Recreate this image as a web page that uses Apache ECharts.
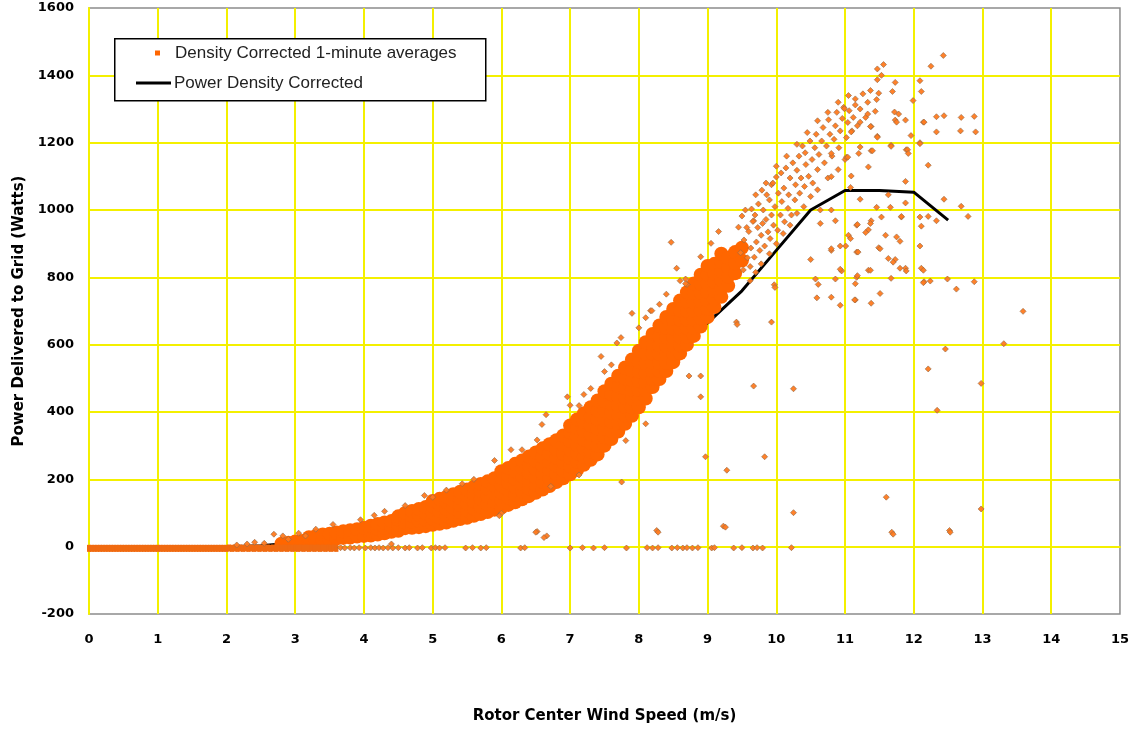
<!DOCTYPE html>
<html><head><meta charset="utf-8">
<script src="https://cdn.jsdelivr.net/npm/echarts@6/dist/echarts.min.js"></script>
<style>html,body{margin:0;padding:0;background:#fff}#c{width:1132px;height:729px}</style>
</head><body><div id="c"></div>
<script>
// ---- power curve (bin averages) ----
const curveSpeed = [0.5,1,1.5,2,2.5,3,3.5,4,4.5,5,5.5,6,6.5,7,7.5,8,8.5,9,9.5,10,10.5,11,11.5,12,12.5];
const curvePower = [0,0,0,0,3,12,28,48,72,100,135,180,235,300,370,455,560,665,760,880,1000,1058,1058,1053,970];

// ---- dense band of 1-minute averages: speed columns and the powers read in each ----
const bandSpeed = [2.8,2.9,3.0,3.1,3.2,3.3,3.4,3.5,3.6,3.7,3.8,3.9,4.0,4.1,4.2,4.3,4.4,4.5,4.6,4.7,4.8,4.9,5.0,5.1,5.2,5.3,5.4,5.5,5.6,5.7,5.8,5.9,6.0,6.1,6.2,6.3,6.4,6.5,6.6,6.7,6.8,6.9,7.0,7.1,7.2,7.3,7.4,7.5,7.6,7.7,7.8,7.9,8.0,8.1,8.2,8.3,8.4,8.5,8.6,8.7,8.8,8.9,9.0,9.1,9.2,9.3,9.4,9.5];
const bandPower = [
 [9],[12],[15],[17],[16,28],[18,32],[20,36],[22,38],[24,42],[26,46],
 [27,49],[30,52],[32,56],[33,48,62],[36,52,67],[40,57,72],[44,60,76],[47,64,80,90],[55,72,89,100],[56,74,92,106],
 [58,76,94,112],[61,80,99,118],[65,83,101,120,136],[68,87,106,125,142],[72,92,112,132,148],[77,97,117,138,156],[82,102,123,144,163],[86,107,128,150,170],[92,113,135,157,178],[97,119,142,165,186],
 [103,126,149,172,194],[110,133,157,181,203],[116,138,160,182,204,224],[124,146,168,190,212,234],[132,155,178,201,224,246],[141,164,187,210,233,256],[150,173,196,219,243,268],[160,183,206,230,254,280],[170,193,217,241,266,292],[180,204,228,252,277,304],
 [192,216,240,264,289,316],[203,227,251,276,302,330],[215,239,263,288,314,340,360],[228,252,277,302,328,354,378],[243,267,292,318,344,370,396],[258,283,308,334,360,386,414],[274,299,325,351,378,404,434],[300,325,351,377,404,432,462],
 [320,345,371,398,425,453,484],[342,367,393,420,447,476,508],[365,390,416,443,471,500,532],[389,414,440,467,495,524,556],[414,439,465,492,520,549,582],[440,464,489,516,544,574,607],
 [474,498,522,547,573,601,632],[498,522,547,572,598,626,657],[522,546,571,596,622,650,682],[548,572,597,622,648,676,706],[574,598,623,648,674,702,731],[600,624,649,674,700,728,756],
 [626,650,675,700,726,754,782],[654,678,703,728,754,781,808],[682,706,731,756,782,808,834],[712,736,761,786,811,840],[742,767,792,818,846,870],[775,802,830,858],[812,842,875],[850,888]
];

// ---- zero-power 1-minute averages (speed, power) ----
const zeroPoints = [
 [0,-5],[0.04,-5],[0.08,-5],[0.12,-5],[0.16,-5],[0.2,-5],[0.24,-5],[0.28,-5],[0.32,-5],[0.36,-5],[0.4,-5],[0.44,-5],[0.48,-5],[0.52,-5],[0.56,-5],[0.6,-5],[0.64,-5],[0.68,-5],[0.72,-5],[0.76,-5],
 [0.8,-5],[0.84,-5],[0.88,-5],[0.92,-5],[0.96,-5],[1,-5],[1.04,-5],[1.08,-5],[1.12,-5],[1.16,-5],[1.2,-5],[1.24,-5],[1.28,-5],[1.32,-5],[1.36,-5],[1.4,-5],[1.44,-5],[1.48,-5],[1.52,-5],[1.56,-5],
 [1.6,-5],[1.64,-5],[1.68,-5],[1.72,-5],[1.76,-5],[1.8,-5],[1.84,-5],[1.88,-5],[1.92,-5],[1.96,-5],[2,-5],[2.04,-4],[2.08,-5],[2.12,-4],[2.16,-5],[2.2,-4],[2.24,-5],[2.28,-4],[2.32,-5],[2.36,-4],
 [2.4,-5],[2.44,-4],[2.48,-5],[2.52,-4],[2.56,-5],[2.6,-4],[2.64,-5],[2.68,-4],[2.72,-5],[2.76,-4],[2.8,-5],[2.84,-4],[2.88,-5],[2.92,-4],[2.96,-5],[3,-4],[3.04,-5],[3.08,-4],[3.12,-5],[3.16,-4],
 [3.2,-5],[3.24,-4],[3.28,-5],[3.32,-4],[3.36,-5],[3.4,-4],[3.44,-5],[3.48,-4],[3.52,-5],[3.56,-4],[3.6,-5]
];
// ---- scattered 1-minute averages (speed, power) ----
const loosePoints = [
 [3.66,-3],[3.72,-4],[3.8,-3],[3.86,-4],[3.93,-3],[4.02,-4],[4.1,-3],[4.16,-4],[4.22,-3],[4.28,-4],[4.35,-3],[4.42,-4],[4.5,-3],[4.6,-4],[4.66,-3],[4.78,-4],[4.85,-3],[4.98,-4],[5.04,-3],[5.1,-4],
 [5.18,-3],[5.48,-4],[5.58,-3],[5.7,-4],[5.78,-3],[6.28,-4],[6.34,-3],[7.0,-4],[7.18,-3],[7.34,-4],[7.5,-3],[7.82,-4],[8.12,-3],[8.2,-4],[8.28,-3],[8.48,-4],[8.56,-3],[8.64,-4],[8.7,-3],[8.78,-4],
 [8.86,-3],[9.06,-4],[9.1,-3],[9.38,-4],[9.5,-3],[9.66,-4],[9.72,-3],[9.8,-4],[10.22,-3],
 [2.15,5],[2.3,8],[2.41,13],[2.55,10],[2.69,37],[2.82,32],[2.9,22],[3.15,32],[3.05,40],[3.3,52],[3.55,66],[3.95,80],[4.15,93],[4.4,8],[4.3,105],[4.6,122],[4.88,152],[5.0,147],[5.2,168],[5.43,187],
 [5.6,200],[5.9,256],[6.14,288],[6.0,99],[5.97,92],[6.3,288],[6.52,317],[6.59,363],[6.65,392],[6.96,445],[7.13,419],[7.0,420],[7.2,452],[7.3,470],[7.45,565],[7.5,520],[7.6,540],[7.68,605],[7.74,621],[7.9,693],
 [8.0,650],[8.1,680],[8.17,701],[8.3,720],[8.4,750],[8.55,827],[8.6,790],[8.7,779],[8.9,861],[8.47,904],[9.05,901],[8.68,795],[8.19,701],[9.16,936],[9.45,949],[9.79,1059],[9.93,1075],[9.67,968],
 [8.9,507],[8.9,445],[8.73,507],[8.1,365],[7.81,315],[7.13,213],[6.72,179],[7.75,192],[6.52,45],[6.66,32],[6.5,43],[6.62,27],[8.26,48],[8.28,43],[9.23,61],[9.26,58],[9.28,227],[8.97,267],[9.83,267],[10.25,101],
 [9.67,477],[10.25,469],[9.93,667],[9.42,667],[9.97,778],[9.98,770],[8.68,781],[9.43,660],
 [9.52,822],[9.48,873],[9.53,911],[9.57,948],[9.5,982],[9.58,858],[9.62,832],[9.63,887],[9.6,936],[9.66,966],[9.64,1003],[9.68,860],[9.71,905],[9.73,948],[9.69,985],[9.76,880],[9.78,925],[9.74,1018],[9.8,960],[9.83,893],
 [9.81,1000],[9.86,1045],[9.88,935],[9.85,972],[9.91,915],[9.93,985],[9.9,1030],[9.96,955],[9.98,1010],[9.95,1080],[10.02,940],[10.03,1050],[10.0,1098],[10.06,985],[10.08,1025],[10.07,1110],[10.12,965],[10.11,1065],[10.14,1125],[10.17,1005],
 [10.18,1045],[10.2,1095],[10.22,985],[10.24,1140],[10.27,1030],[10.28,1075],[10.3,1118],[10.33,1160],[10.34,1050],[10.36,1095],[10.38,1190],[10.41,1070],[10.43,1135],[10.42,1170],[10.47,1100],[10.49,1205],[10.52,1150],[10.53,1080],[10.56,1185],[10.58,1225],
 [10.6,1120],[10.62,1165],[10.66,1205],[10.68,1245],[10.7,1140],[10.73,1190],[10.76,1268],[10.78,1225],[10.81,1160],[10.84,1210],[10.86,1250],[10.88,1290],[10.91,1185],[10.93,1235],[10.96,1272],[10.98,1305],[11.02,1215],[11.04,1260],[11.06,1295],[11.1,1235],
 [11.12,1275],[11.15,1330],[11.18,1250],[11.22,1300],[11.26,1345],[11.3,1275],[11.33,1320],
 [9.62,790],[9.7,815],[9.78,840],[9.9,870],[10.0,900],[10.1,930],[10.2,955],[10.3,990],[10.4,1010],[10.5,1040],[10.6,1060],[10.75,1095],[10.9,1120],[11.0,1150],
 [9.55,1000],[9.7,1045],[9.85,1080],[10.0,1130],[10.15,1160],[10.3,1195],[10.45,1230],[10.6,1265],[10.75,1290],[10.9,1320],[11.05,1340],
 [10.5,853],[10.57,795],[10.61,779],[10.59,739],[10.8,741],[10.93,717],[11.15,733],[11.38,723],[11.51,752],[11.34,821],[11.17,800],[11.67,797],[10.86,795],[10.95,819],[10.8,880],[11.01,893],[11.17,875],[11.49,888],[11.73,853],[11.88,827],
 [12.11,827],[10.64,960],[10.86,968],[11.05,925],[11.17,955],[11.34,941],[11.38,968],[11.59,925],[11.82,979],[12.11,952],[12.21,981],[10.64,1000],[10.8,1000],[11.22,1032],[11.46,1008],[11.66,1008],[11.88,1021],[11.88,1085],[11.34,1128],[11.09,1101],
 [10.8,1099],[12.21,1133],[11.89,1179],[11.67,1192],[11.38,1176],[11.2,1168],[11.02,1157],[11.38,1248],[11.47,1219],[11.73,1267],[11.88,1267],[12.14,1261],[12.33,1232],[11.96,1221],[12.09,1200],
 [12.43,1459],[12.25,1427],[11.56,1432],[11.47,1419],[11.53,1400],[11.47,1387],[11.73,1379],[12.09,1384],[11.37,1355],[11.69,1352],[12.11,1352],[11.49,1347],[11.46,1328],[11.99,1325],[10.99,1301],[11.15,1312],[11.33,1285],[11.44,1293],[11.72,1291],[11.78,1285],
 [11.75,1261],[12.33,1277],[12.44,1280],[12.69,1275],[12.15,1261],[11.22,1261],[11.09,1232],[11.37,1248],[12.68,1235],[12.09,1197],[11.47,1216],[11.22,1187],[11.4,1176],[11.67,1189],[11.91,1179],[11.92,1168],[10.8,1168],[11.04,1157],[11.08,1067],[11.63,1045],
 [12.44,1032],[12.69,1011],[12.79,981],[11.82,981],[12.09,979],[12.33,968],[11.53,979],[11.18,957],[11.37,960],[11.3,933],[11.08,915],[11.75,920],[11.8,907],[12.09,893],[10.8,885],[10.93,893],[11.51,885],[11.19,875],[11.63,856],[11.7,845],
 [11.8,827],[11.89,819],[12.14,821],[11.37,821],[10.93,824],[11.18,805],[12.24,789],[12.15,787],[12.49,795],[12.88,787],[12.62,765],[11.15,781],[11.14,733],[12.14,784],[12.88,1278],[12.9,1232],
 [11.6,147],[11.68,43],[11.7,37],[12.52,48],[12.53,43],[12.98,112],[12.46,587],[12.21,528],[12.98,485],[12.34,405],[13.31,603],[13.59,699]
];

const xTickMax = 15, yTickMin = -200, yTickMax = 1600;
const seriesName = 'Density Corrected 1-minute averages';
const curveName = 'Power Density Corrected';

const bandData = [];
bandSpeed.forEach((s, i) => bandPower[i].forEach(p => bandData.push([s, p])));
const curveData = curveSpeed.map((s, i) => [s, curvePower[i]]);

const chart = echarts.init(document.getElementById('c'), null, {renderer: 'canvas'});
const yellow = '#f4f000';
const tickFont = {fontFamily: 'DejaVu Sans', fontWeight: 'bold', fontSize: 13, color: '#000'};
const legendText = {fontFamily: 'Liberation Sans', fontSize: 17, color: '#222', lineHeight: 18};
chart.setOption({
  animation: false,
  backgroundColor: '#fff',
  grid: {left: 89, right: 12, top: 8, bottom: 43, show: true, borderColor: '#8c8c8c', borderWidth: 1.5, backgroundColor: '#fff'},
  xAxis: {
    type: 'value', min: 0, max: xTickMax, interval: 1,
    name: 'Rotor Center Wind Speed (m/s)', nameLocation: 'middle', nameGap: 95,
    nameTextStyle: {fontFamily: 'DejaVu Sans', fontWeight: 'bold', fontSize: 15, color: '#000'},
    axisLine: {show: true, onZero: true, lineStyle: {color: yellow, width: 2}},
    axisTick: {show: false},
    axisLabel: Object.assign({margin: 19}, tickFont),
    splitLine: {show: true, showMaxLine: false, lineStyle: {color: yellow, width: 2}}
  },
  yAxis: {
    type: 'value', min: yTickMin, max: yTickMax, interval: 200,
    name: 'Power Delivered to Grid (Watts)', nameLocation: 'middle', nameGap: 62, nameRotate: 90,
    nameTextStyle: {fontFamily: 'DejaVu Sans', fontWeight: 'bold', fontSize: 15, color: '#000'},
    axisLine: {show: true, lineStyle: {color: yellow, width: 2}},
    axisTick: {show: false},
    axisLabel: Object.assign({margin: 15, formatter: v => String(v)}, tickFont),
    splitLine: {show: true, showMinLine: false, showMaxLine: false, lineStyle: {color: yellow, width: 2}}
  },
  legend: [
    {data: [{name: seriesName, icon: 'rect'}], left: 155, top: 44, padding: 0, itemWidth: 5, itemHeight: 5,
     selectedMode: false, z: 10, itemStyle: {opacity: 1}, textStyle: Object.assign({padding: [0, 0, 0, 10]}, legendText)},
    {data: [{name: curveName, icon: 'rect'}], left: 136, top: 74, padding: 0, itemWidth: 35, itemHeight: 3,
     selectedMode: false, z: 10, itemStyle: {color: '#000'}, textStyle: Object.assign({padding: [0, 0, 0, -2]}, legendText)}
  ],
  graphic: [{type: 'rect', left: 114, top: 38, z: 5,
    shape: {width: 371, height: 62}, style: {fill: '#fff', stroke: '#000', lineWidth: 1.5}}],
  series: [
    {name: curveName, type: 'line', data: curveData, showSymbol: false, symbol: 'none',
     lineStyle: {color: '#000', width: 3}, itemStyle: {color: '#000'}, z: 2, silent: true},
    {name: seriesName, type: 'scatter', data: bandData, symbol: 'circle', symbolSize: 14,
     itemStyle: {color: '#ff6600', opacity: 1}, z: 3, silent: true},
    {name: seriesName, type: 'scatter', data: zeroPoints, symbol: 'rect', symbolSize: [4, 7],
     itemStyle: {color: '#f06a10', opacity: 1}, z: 3, silent: true},
    {name: seriesName, type: 'scatter', data: loosePoints, symbol: 'diamond', symbolSize: 6,
     itemStyle: {color: '#ff7a1f', borderColor: 'rgba(150,105,70,0.85)', borderWidth: 0.8, opacity: 0.95}, z: 3, silent: true}
  ]
});
</script></body></html>
